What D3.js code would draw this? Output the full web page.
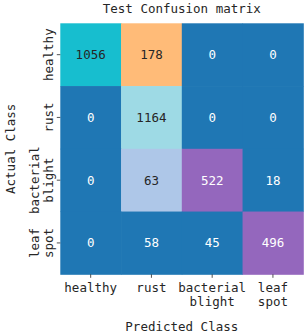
<!DOCTYPE html>
<html>
<head>
<meta charset="utf-8">
<script src="https://cdn.jsdelivr.net/npm/d3@7"></script>
<style>
  body { margin: 0; background: #fff; }
  text { font-family: "DejaVu Sans Mono", monospace; }
</style>
</head>
<body>
<div id="chart"></div>
<script>
const classes = ["healthy", "rust", "bacterial blight", "leaf spot"];
const tickLines = [["healthy"], ["rust"], ["bacterial", "blight"], ["leaf", "spot"]];
const matrix = [
    [1056, 178, 0, 0],
    [0, 1164, 0, 0],
    [0, 63, 522, 18],
    [0, 58, 45, 496]
];
const tab20 = [
    "#1f77b4", "#aec7e8", "#ff7f0e", "#ffbb78", "#2ca02c", "#98df8a", "#d62728", "#ff9896",
    "#9467bd", "#c5b0d5", "#8c564b", "#c49c94", "#e377c2", "#f7b6d2", "#7f7f7f", "#c7c7c7",
    "#bcbd22", "#dbdb8d", "#17becf", "#9edae5"
];

const width = 308, height = 334;
const margin = { top: 23.3, right: 4.7, bottom: 59.7, left: 60.3 };
const fs = 12.5;

const svg = d3.select("#chart").append("svg")
    .attr("width", width)
    .attr("height", height);

const cells = [];
matrix.forEach((row, i) => row.forEach((v, j) => cells.push({ i, j, v })));

const x = d3.scaleBand().domain(d3.range(classes.length)).range([margin.left, width - margin.right]);
const y = d3.scaleBand().domain(d3.range(classes.length)).range([margin.top, height - margin.bottom]);
const maxV = d3.max(cells, d => d.v);
const color = d3.scaleQuantize().domain([0, maxV]).range(tab20);

function lum(c) {
    const rgb = d3.rgb(c);
    const f = v => { v /= 255; return v <= 0.03928 ? v / 12.92 : Math.pow((v + 0.055) / 1.055, 2.4); };
    return 0.2126 * f(rgb.r) + 0.7152 * f(rgb.g) + 0.0722 * f(rgb.b);
}

svg.selectAll("rect.cell")
    .data(cells)
    .enter()
    .append("rect")
    .attr("class", "cell")
    .attr("x", d => x(d.j))
    .attr("y", d => y(d.i))
    .attr("width", x.bandwidth() + 0.5)
    .attr("height", y.bandwidth() + 0.5)
    .attr("fill", d => color(d.v));

svg.selectAll("text.val")
    .data(cells)
    .enter()
    .append("text")
    .attr("class", "val")
    .attr("x", d => x(d.j) + x.bandwidth() / 2)
    .attr("y", d => y(d.i) + y.bandwidth() / 2)
    .attr("text-anchor", "middle")
    .attr("dominant-baseline", "central")
    .style("font-size", fs + "px")
    .style("fill", d => lum(color(d.v)) > 0.408 ? "#262626" : "#ffffff")
    .text(d => d.v);

// x axis
const xb = height - margin.bottom;
const xt = svg.append("g");
classes.forEach((c, j) => {
    const cx = x(j) + x.bandwidth() / 2;
    xt.append("line")
        .attr("x1", cx).attr("x2", cx)
        .attr("y1", xb).attr("y2", xb + 3.5)
        .attr("stroke", "#262626").attr("stroke-width", 0.8);
    const t = xt.append("text")
        .attr("x", cx)
        .attr("text-anchor", "middle")
        .style("font-size", fs + "px")
        .style("fill", "#262626");
    tickLines[j].forEach((ln, k) => {
        t.append("tspan").attr("x", cx).attr("y", xb + 18 + k * 14).text(ln);
    });
});

// y axis
const yt = svg.append("g");
classes.forEach((c, i) => {
    const cy = y(i) + y.bandwidth() / 2;
    yt.append("line")
        .attr("x1", margin.left - 3.5).attr("x2", margin.left)
        .attr("y1", cy).attr("y2", cy)
        .attr("stroke", "#262626").attr("stroke-width", 0.8);
    const lines = tickLines[i];
    const t = yt.append("text")
        .attr("transform", `translate(0,${cy}) rotate(-90)`)
        .attr("text-anchor", "middle")
        .style("font-size", fs + "px")
        .style("fill", "#262626");
    lines.forEach((ln, k) => {
        const off = (lines.length - 1 - k) * 14;
        t.append("tspan").attr("x", 0).attr("y", 52.5 - off).text(ln);
    });
});

svg.append("text")
    .attr("x", (margin.left + width - margin.right) / 2)
    .attr("y", 13)
    .attr("text-anchor", "middle")
    .style("font-size", fs + "px")
    .style("fill", "#262626")
    .text("Test Confusion matrix");

svg.append("text")
    .attr("x", (margin.left + width - margin.right) / 2)
    .attr("y", 331)
    .attr("text-anchor", "middle")
    .style("font-size", fs + "px")
    .style("fill", "#262626")
    .text("Predicted Class");

svg.append("text")
    .attr("transform", `translate(14.5,${(margin.top + height - margin.bottom) / 2}) rotate(-90)`)
    .attr("text-anchor", "middle")
    .style("font-size", fs + "px")
    .style("fill", "#262626")
    .text("Actual Class");
</script>
</body>
</html>
